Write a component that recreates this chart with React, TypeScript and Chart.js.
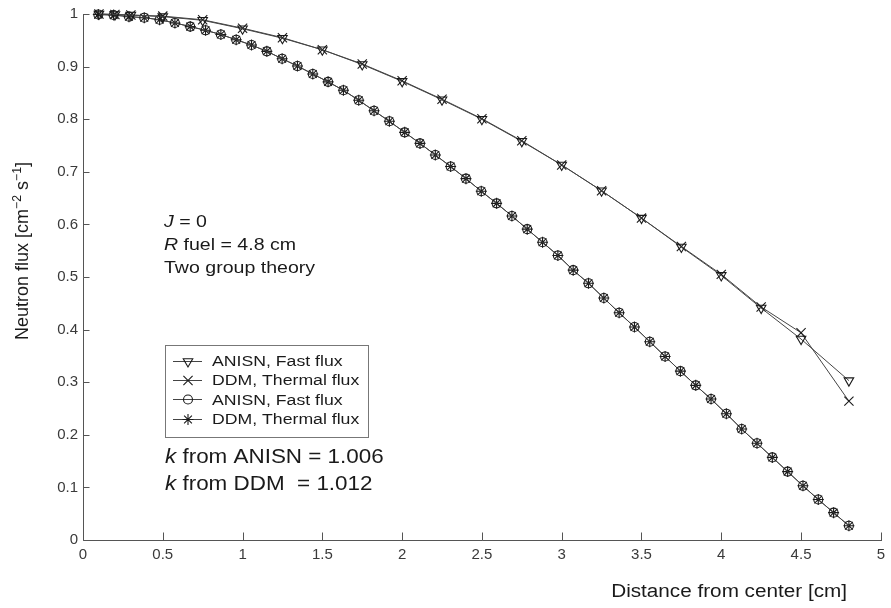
import React, { useEffect, useRef } from "react";
import { Chart, registerables } from "chart.js";
import { drawPoint } from "chart.js/helpers";

Chart.register(...registerables);

// ---- data ----
const fastX = [0.1, 0.2, 0.3, 0.5, 0.75, 1.0, 1.25, 1.5, 1.75, 2.0, 2.25, 2.5, 2.75, 3.0, 3.25, 3.5, 3.75, 4.0, 4.25, 4.5, 4.8];
const anisnFast = [1.0, 0.999, 0.998, 0.995, 0.988, 0.972, 0.954, 0.932, 0.904, 0.872, 0.837, 0.8, 0.758, 0.713, 0.664, 0.612, 0.557, 0.503, 0.441, 0.382, 0.303];
const ddmFast = [1.0, 0.999, 0.998, 0.996, 0.989, 0.973, 0.955, 0.932, 0.905, 0.873, 0.838, 0.801, 0.759, 0.713, 0.664, 0.612, 0.558, 0.505, 0.443, 0.394, 0.264];

const thermalX = [
  0.096, 0.192, 0.288, 0.384, 0.48, 0.576, 0.672, 0.768, 0.864, 0.96,
  1.056, 1.152, 1.248, 1.344, 1.44, 1.536, 1.632, 1.728, 1.824, 1.92,
  2.016, 2.112, 2.208, 2.304, 2.4, 2.496, 2.592, 2.688, 2.784, 2.88,
  2.976, 3.072, 3.168, 3.264, 3.36, 3.456, 3.552, 3.648, 3.744, 3.84,
  3.936, 4.032, 4.128, 4.224, 4.32, 4.416, 4.512, 4.608, 4.704, 4.8,
];
const anisnThermal = [
  0.999, 0.998, 0.995, 0.993, 0.989, 0.983, 0.976, 0.969, 0.961, 0.951,
  0.941, 0.929, 0.915, 0.901, 0.886, 0.871, 0.855, 0.836, 0.816, 0.796,
  0.775, 0.754, 0.732, 0.71, 0.687, 0.663, 0.64, 0.616, 0.591, 0.566,
  0.541, 0.513, 0.488, 0.46, 0.432, 0.405, 0.377, 0.349, 0.321, 0.294,
  0.268, 0.24, 0.211, 0.184, 0.157, 0.13, 0.103, 0.077, 0.052, 0.027,
];
const ddmThermal = [
  0.999, 0.998, 0.995, 0.993, 0.989, 0.983, 0.976, 0.969, 0.961, 0.951,
  0.941, 0.929, 0.915, 0.901, 0.886, 0.871, 0.855, 0.836, 0.816, 0.796,
  0.775, 0.754, 0.732, 0.71, 0.687, 0.663, 0.64, 0.616, 0.591, 0.566,
  0.541, 0.513, 0.488, 0.46, 0.432, 0.405, 0.377, 0.349, 0.321, 0.294,
  0.268, 0.24, 0.211, 0.184, 0.157, 0.13, 0.103, 0.077, 0.052, 0.027,
];

const legendLabels = ["ANISN, Fast flux", "DDM, Thermal flux", "ANISN, Fast flux", "DDM, Thermal flux"];
const xTicks = [0, 0.5, 1, 1.5, 2, 2.5, 3, 3.5, 4, 4.5, 5];
const yTicks = [0, 0.1, 0.2, 0.3, 0.4, 0.5, 0.6, 0.7, 0.8, 0.9, 1];

const FONT = '"Liberation Sans", Arial, Helvetica, sans-serif';
const AXIS = "#555";
const TEXT = "#1a1a1a";

const zip = (xs: number[], ys: number[]) => xs.map((x, i) => ({ x, y: ys[i] }));

type Run = { t: string; italic?: boolean; sup?: boolean };

function drawRuns(ctx: CanvasRenderingContext2D, runs: Run[], x: number, y: number, size: number, sx: number) {
  ctx.save();
  ctx.translate(x, y);
  ctx.scale(sx, 1);
  ctx.fillStyle = TEXT;
  ctx.textBaseline = "alphabetic";
  ctx.textAlign = "left";
  let cx = 0;
  for (const r of runs) {
    const s = r.sup ? size * 0.68 : size;
    ctx.font = `${r.italic ? "italic " : ""}${s}px ${FONT}`;
    ctx.fillText(r.t, cx, r.sup ? -size * 0.4 : 0);
    cx += ctx.measureText(r.t).width;
  }
  ctx.restore();
}

function runsWidth(ctx: CanvasRenderingContext2D, runs: Run[], size: number) {
  let w = 0;
  for (const r of runs) {
    const s = r.sup ? size * 0.68 : size;
    ctx.font = `${r.italic ? "italic " : ""}${s}px ${FONT}`;
    w += ctx.measureText(r.t).width;
  }
  return w;
}

const axesPlugin = {
  id: "axesInward",
  beforeDatasetsDraw(chart: any) {
    const { ctx, chartArea, scales } = chart;
    const xs = scales.x;
    const ys = scales.y;
    ctx.save();
    ctx.strokeStyle = AXIS;
    ctx.lineWidth = 1;
    const left = Math.round(chartArea.left) + 0.5;
    const bottom = Math.round(chartArea.bottom) + 0.5;
    ctx.beginPath();
    ctx.moveTo(left, Math.round(chartArea.top));
    ctx.lineTo(left, bottom);
    ctx.lineTo(Math.round(chartArea.right) + 1, bottom);
    for (const v of xTicks) {
      const px = Math.round(xs.getPixelForValue(v)) + 0.5;
      ctx.moveTo(px, bottom);
      ctx.lineTo(px, bottom - 8);
    }
    for (const v of yTicks) {
      const py = Math.round(ys.getPixelForValue(v)) + 0.5;
      ctx.moveTo(left, py);
      ctx.lineTo(left + 6, py);
    }
    ctx.stroke();
    ctx.restore();
  },
  afterDraw(chart: any) {
    const { ctx } = chart;
    // annotations
    drawRuns(ctx, [{ t: "J", italic: true }, { t: " = 0" }], 164, 227, 17, 1.15);
    drawRuns(ctx, [{ t: "R", italic: true }, { t: " fuel = 4.8 cm" }], 164, 249.5, 17, 1.15);
    drawRuns(ctx, [{ t: "Two group theory" }], 164, 272.5, 17, 1.15);
    drawRuns(ctx, [{ t: "k", italic: true }, { t: " from ANISN = 1.006" }], 165, 463, 19.5, 1.15);
    drawRuns(ctx, [{ t: "k", italic: true }, { t: " from DDM  = 1.012" }], 165, 490, 19.5, 1.15);

    // legend
    ctx.save();
    ctx.fillStyle = "#fff";
    ctx.strokeStyle = "#777";
    ctx.lineWidth = 1;
    ctx.fillRect(165.5, 345.5, 203, 92);
    ctx.strokeRect(165.5, 345.5, 203, 92);
    const rows = [360.5, 379.5, 399, 418.5];
    chart.data.datasets.forEach((ds: any, i: number) => {
      const cy = Math.round(rows[i]) + 0.5;
      ctx.strokeStyle = ds.borderColor;
      ctx.lineWidth = 1;
      ctx.beginPath();
      ctx.moveTo(173, cy);
      ctx.lineTo(202, cy);
      ctx.stroke();
      ctx.strokeStyle = ds.pointBorderColor;
      ctx.fillStyle = "rgba(0,0,0,0)";
      ctx.lineWidth = ds.pointBorderWidth;
      drawPoint(ctx, { pointStyle: ds.pointStyle, rotation: ds.pointRotation || 0, radius: ds.pointRadius, borderWidth: ds.pointBorderWidth } as any, 188, cy);
      drawRuns(ctx, [{ t: legendLabels[i] }], 212, rows[i] + 5.5, 15.5, 1.14);
    });
    ctx.restore();

    // x axis title (right aligned)
    const xr: Run[] = [{ t: "Distance from center [cm]" }];
    const xw = runsWidth(ctx, xr, 18) * 1.15;
    drawRuns(ctx, xr, 847 - xw, 597, 18, 1.15);

    // y axis title (rotated)
    const yr: Run[] = [
      { t: "Neutron flux [cm" },
      { t: "\u22122", sup: true },
      { t: " s" },
      { t: "\u22121", sup: true },
      { t: "]" },
    ];
    ctx.save();
    ctx.translate(28, 340);
    ctx.rotate(-Math.PI / 2);
    drawRuns(ctx, yr, 0, 0, 18, 1);
    ctx.restore();
  },
};

export default function App() {
  const ref = useRef<HTMLCanvasElement>(null);
  useEffect(() => {
    document.body.style.margin = "0";
    const canvas = ref.current;
    if (!canvas) return;
    const lineColor = "#444";
    const markColor = "#1a1a1a";
    const chart = new Chart(canvas, {
      type: "line",
      data: {
        datasets: [
          {
            label: legendLabels[0],
            data: zip(fastX, anisnFast),
            borderColor: lineColor,
            borderWidth: 1,
            pointStyle: "triangle",
            pointRotation: 180,
            pointRadius: 5.5,
            pointBorderColor: markColor,
            pointBackgroundColor: "rgba(0,0,0,0)",
            pointBorderWidth: 1.1,
            clip: false,
          } as any,
          {
            label: legendLabels[1],
            data: zip(fastX, ddmFast),
            borderColor: lineColor,
            borderWidth: 1,
            pointStyle: "crossRot",
            pointRadius: 6.5,
            pointBorderColor: markColor,
            pointBackgroundColor: "rgba(0,0,0,0)",
            pointBorderWidth: 1.1,
            clip: false,
          } as any,
          {
            label: legendLabels[2],
            data: zip(thermalX, anisnThermal),
            borderColor: lineColor,
            borderWidth: 1,
            pointStyle: "circle",
            pointRadius: 4.5,
            pointBorderColor: markColor,
            pointBackgroundColor: "rgba(0,0,0,0)",
            pointBorderWidth: 1.1,
            clip: false,
          } as any,
          {
            label: legendLabels[3],
            data: zip(thermalX, ddmThermal),
            borderColor: lineColor,
            borderWidth: 1,
            pointStyle: "star",
            pointRadius: 5.5,
            pointBorderColor: markColor,
            pointBackgroundColor: "rgba(0,0,0,0)",
            pointBorderWidth: 1.1,
            clip: false,
          } as any,
        ],
      },
      options: {
        responsive: false,
        animation: false,
        devicePixelRatio: 1,
        layout: { padding: { top: 14, right: 10, left: 0, bottom: 0 } },
        plugins: { legend: { display: false }, tooltip: { enabled: false } },
        elements: { line: { tension: 0 } },
        scales: {
          x: {
            type: "linear",
            min: 0,
            max: 5,
            afterFit: (s: any) => {
              s.height = 68;
            },
            afterBuildTicks: (s: any) => {
              s.ticks = xTicks.map((v) => ({ value: v }));
            },
            grid: { display: false, drawTicks: false },
            border: { display: false },
            ticks: {
              padding: 6,
              color: "#3a3a3a",
              font: { family: FONT, size: 15 },
              maxRotation: 0,
              autoSkip: false,
              callback: (v: any) => String(Math.round(Number(v) * 10) / 10),
            },
          },
          y: {
            type: "linear",
            min: 0,
            max: 1,
            afterFit: (s: any) => {
              s.width = 83;
            },
            afterBuildTicks: (s: any) => {
              s.ticks = yTicks.map((v) => ({ value: v }));
            },
            grid: { display: false, drawTicks: false },
            border: { display: false },
            ticks: {
              padding: 5,
              color: "#3a3a3a",
              font: { family: FONT, size: 15 },
              autoSkip: false,
              callback: (v: any) => String(Math.round(Number(v) * 10) / 10),
            },
          },
        },
      } as any,
      plugins: [axesPlugin],
    });
    return () => chart.destroy();
  }, []);
  return (
    <div style={{ width: 891, height: 608 }}>
      <canvas ref={ref} width={891} height={608} style={{ display: "block" }} />
    </div>
  );
}
